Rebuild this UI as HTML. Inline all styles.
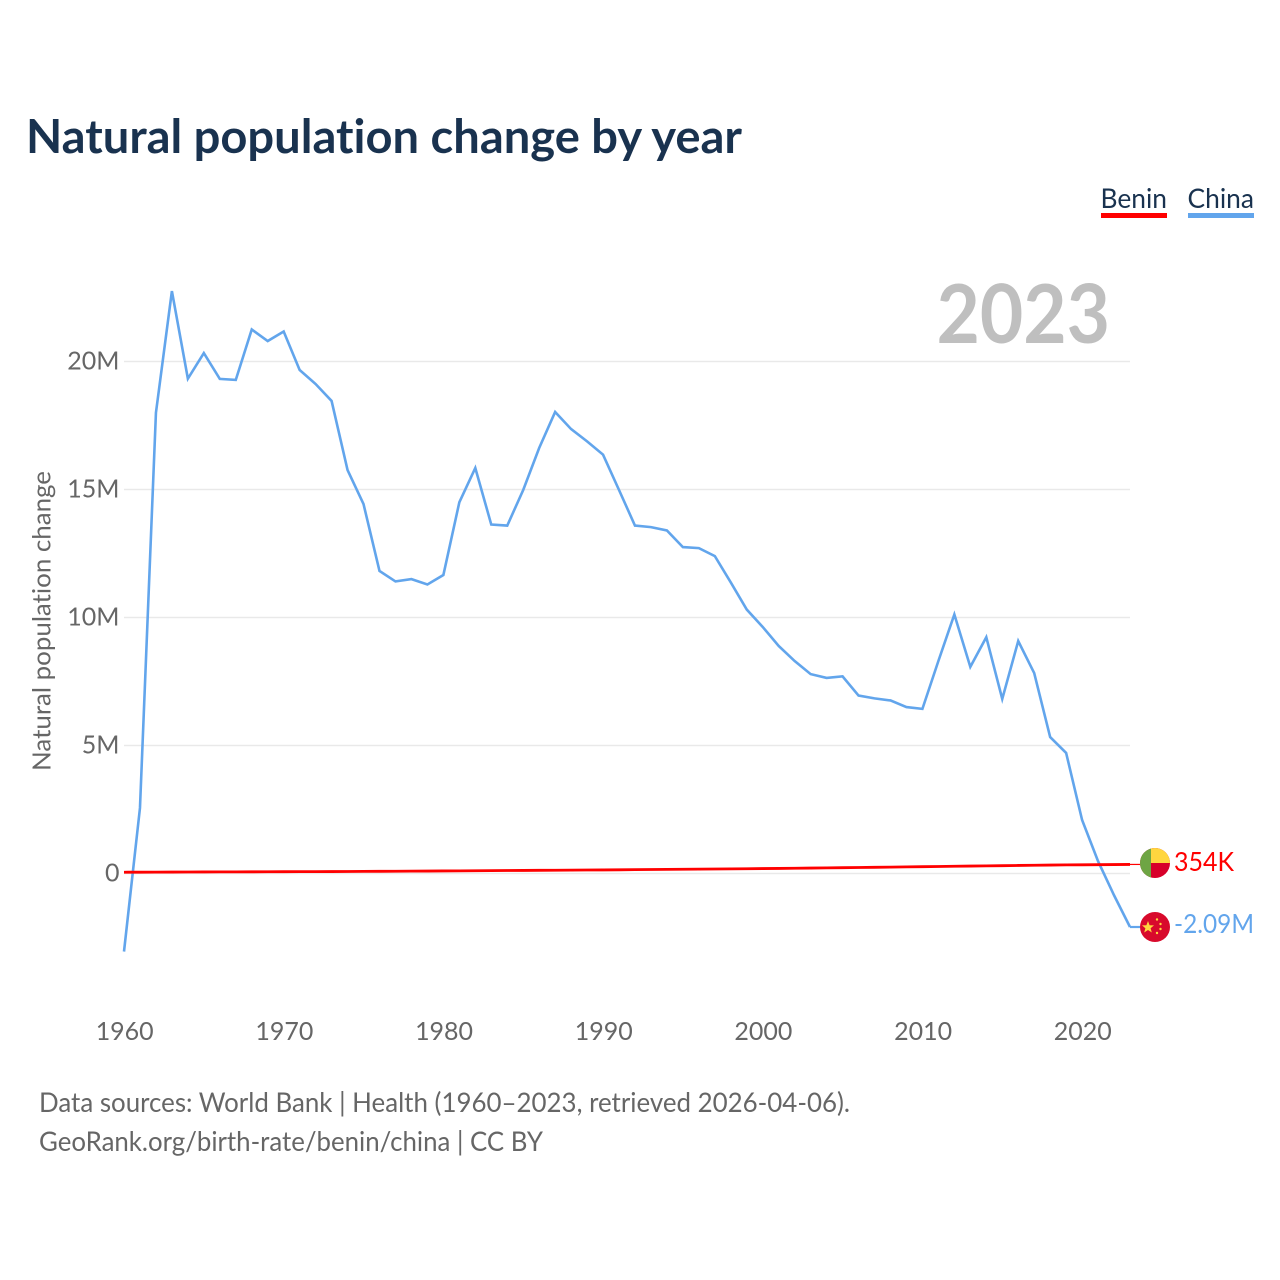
<!DOCTYPE html>
<html lang="en">
<head>
<meta charset="utf-8">
<title>Natural population change by year</title>
<style>
html,body{margin:0;padding:0;background:#fff;}
svg{display:block;font-family:"Lato","Carlito","Liberation Sans",sans-serif;font-variant-ligatures:none;}
</style>
</head>
<body>
<svg id="chart" xmlns="http://www.w3.org/2000/svg" width="1280" height="1280" viewBox="0 0 1280 1280">
  <rect x="0" y="0" width="1280" height="1280" fill="#ffffff"/>
  <text x="26" y="153" font-size="47" font-weight="700" fill="#19324f" textLength="716" lengthAdjust="spacingAndGlyphs">Natural population change by year</text>

  <g>
    <text x="1100.5" y="208" font-size="27.5" fill="#19324f" textLength="66.5" lengthAdjust="spacingAndGlyphs">Benin</text>
    <rect x="1101" y="213" width="66" height="5" fill="#ff0000"/>
  </g>
  <g>
    <text x="1187.5" y="208" font-size="27.5" fill="#19324f" textLength="66.5" lengthAdjust="spacingAndGlyphs">China</text>
    <rect x="1188" y="213" width="66" height="5" fill="#62a5ec"/>
  </g>

  <g id="grid"></g>
  <g id="yticks"></g>
  <g id="xticks"></g>

  <text transform="translate(50.5,621) rotate(-90)" text-anchor="middle" font-size="25" fill="#666666" textLength="300" lengthAdjust="spacingAndGlyphs">Natural population change</text>

  <text x="936.5" y="343" font-size="81" font-weight="700" fill="#bfbfbf" textLength="173.5" lengthAdjust="spacingAndGlyphs">2023</text>

  <polyline id="line-china" fill="none" stroke="#62a5ec" stroke-width="2.6" stroke-linejoin="miter"/>
  <polyline id="line-benin" fill="none" stroke="#ff0000" stroke-width="2.8" stroke-linejoin="round"/>
  <line id="connector-china" stroke="#62a5ec" stroke-width="2.2"/>
  <line id="connector-benin" stroke="#ff0000" stroke-width="1.2"/>

  <defs>
    <clipPath id="clip-benin"><circle cx="1155" cy="863" r="15"/></clipPath>
    <clipPath id="clip-china"><circle cx="1155" cy="927" r="15"/></clipPath>
  </defs>
  <g clip-path="url(#clip-benin)">
    <rect x="1140" y="848" width="30" height="30" fill="#d7002a"/>
    <rect x="1150" y="848" width="20" height="15" fill="#ffd63f"/>
    <rect x="1140" y="848" width="11" height="30" fill="#6ea544"/>
  </g>
  <g clip-path="url(#clip-china)">
    <rect x="1140" y="912" width="30" height="30" fill="#d80a2c"/>
    <polygon points="1148,921 1149.6,925.2 1154,925.4 1150.6,928.2 1151.8,932.5 1148,930 1144.2,932.5 1145.4,928.2 1142,925.4 1146.4,925.2" fill="#ffd63f"/>
    <circle cx="1157" cy="919.5" r="1.2" fill="#ffd63f"/>
    <circle cx="1160.5" cy="924" r="1.2" fill="#ffd63f"/>
    <circle cx="1160.5" cy="929" r="1.2" fill="#ffd63f"/>
    <circle cx="1157" cy="933" r="1.2" fill="#ffd63f"/>
  </g>

  <text id="value-benin" x="1174" y="871" font-size="26" fill="#ff0000" textLength="60" lengthAdjust="spacingAndGlyphs"></text>
  <text id="value-china" x="1174" y="933" font-size="26" fill="#62a5ec" textLength="80" lengthAdjust="spacingAndGlyphs"></text>

  <text x="39" y="1112" font-size="27.5" fill="#666666" textLength="811" lengthAdjust="spacingAndGlyphs">Data sources: World Bank | Health (1960–2023, retrieved 2026-04-06).</text>
  <text x="39" y="1151" font-size="27.5" fill="#666666" textLength="504" lengthAdjust="spacingAndGlyphs">GeoRank.org/birth-rate/benin/china | CC BY</text>
</svg>
<script>
const years = [1960,1961,1962,1963,1964,1965,1966,1967,1968,1969,1970,1971,1972,1973,1974,1975,1976,1977,1978,1979,1980,1981,1982,1983,1984,1985,1986,1987,1988,1989,1990,1991,1992,1993,1994,1995,1996,1997,1998,1999,2000,2001,2002,2003,2004,2005,2006,2007,2008,2009,2010,2011,2012,2013,2014,2015,2016,2017,2018,2019,2020,2021,2022,2023];
const chinaValues = [-3.05,2.56,18.0,22.75,19.33,20.33,19.32,19.28,21.25,20.8,21.17,19.67,19.12,18.46,15.76,14.43,11.82,11.41,11.5,11.29,11.66,14.5,15.84,13.63,13.59,14.98,16.62,18.03,17.36,16.88,16.36,14.98,13.59,13.53,13.4,12.75,12.71,12.4,11.37,10.31,9.63,8.89,8.3,7.79,7.64,7.7,6.95,6.84,6.76,6.5,6.43,8.3,10.12,8.07,9.23,6.82,9.08,7.83,5.33,4.71,2.09,0.48,-0.85,-2.09];
const beninValues = [0.05,0.052,0.054,0.056,0.058,0.06,0.062,0.064,0.066,0.068,0.07,0.072,0.074,0.076,0.079,0.082,0.085,0.088,0.092,0.096,0.1,0.104,0.108,0.112,0.116,0.12,0.124,0.128,0.132,0.136,0.14,0.144,0.15,0.156,0.162,0.166,0.17,0.175,0.18,0.186,0.192,0.198,0.205,0.212,0.219,0.226,0.235,0.242,0.25,0.258,0.266,0.274,0.282,0.29,0.298,0.306,0.314,0.322,0.33,0.336,0.34,0.345,0.35,0.354];
const yTickValues = [0,5,10,15,20];
const yTickLabels = ['0','5M','10M','15M','20M'];
const xTickYears = [1960,1970,1980,1990,2000,2010,2020];
const seriesLabels = ['354K','-2.09M'];

const SVGNS = 'http://www.w3.org/2000/svg';
function xScale(year){ return 124 + (year - 1960) * (1006 / 63); }
function yScale(value){ return 873.5 - value * 25.6; }
function pointsFor(values){
  return values.map(function(v,i){ return xScale(years[i]).toFixed(2) + ',' + yScale(v).toFixed(2); }).join(' ');
}

const gridGroup = document.getElementById('grid');
const yGroup = document.getElementById('yticks');
const xGroup = document.getElementById('xticks');

yTickValues.forEach(function(v,i){
  const line = document.createElementNS(SVGNS,'line');
  
  
  line.setAttribute('x1', 124);
  line.setAttribute('x2', 1130);
  line.setAttribute('y1', yScale(v));
  line.setAttribute('y2', yScale(v));
  line.setAttribute('stroke', '#e9e9e9');
  line.setAttribute('stroke-width', 1.4);
  gridGroup.appendChild(line);

  const label = document.createElementNS(SVGNS,'text');
  
  
  label.setAttribute('x', 119.5);
  label.setAttribute('y', yScale(v) + 8);
  label.setAttribute('text-anchor', 'end');
  label.setAttribute('font-size', 25);
  label.setAttribute('fill', '#666666');
  label.textContent = yTickLabels[i];
  yGroup.appendChild(label);
});

xTickYears.forEach(function(y){
  const label = document.createElementNS(SVGNS,'text');
  
  
  label.setAttribute('x', xScale(y) + 0.7);
  label.setAttribute('y', 1040);
  label.setAttribute('text-anchor', 'middle');
  label.setAttribute('font-size', 25);
  label.setAttribute('fill', '#666666');
  label.setAttribute('textLength', 58);
  label.setAttribute('lengthAdjust', 'spacingAndGlyphs');
  label.textContent = String(y);
  xGroup.appendChild(label);
});

document.getElementById('line-china').setAttribute('points', pointsFor(chinaValues));
document.getElementById('line-benin').setAttribute('points', pointsFor(beninValues));

function connector(id, values){
  const c = document.getElementById(id);
  const last = values[values.length - 1];
  c.setAttribute('x1', xScale(years[years.length - 1]));
  c.setAttribute('x2', 1140);
  c.setAttribute('y1', yScale(last));
  c.setAttribute('y2', yScale(last));
}
connector('connector-china', chinaValues);
connector('connector-benin', beninValues);
document.getElementById('value-benin').textContent = seriesLabels[0];
document.getElementById('value-china').textContent = seriesLabels[1];
</script>
</body>
</html>
